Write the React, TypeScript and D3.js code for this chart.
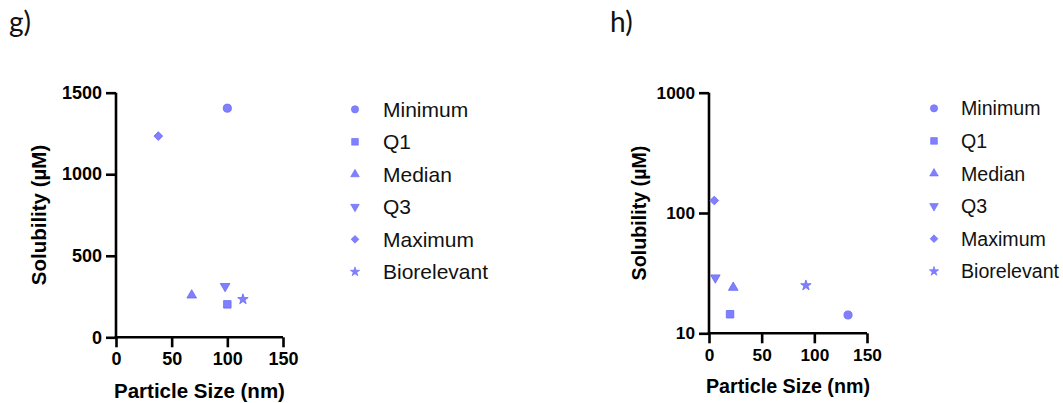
import React, { useEffect, useRef } from "react";
import * as d3 from "d3";

// Series shared by both panels
const seriesNames = ["Minimum", "Q1", "Median", "Q3", "Maximum", "Biorelevant"];

// Panel g: particle size (nm) vs solubility (µM), linear scale
const gSize = [100, 100, 68, 98, 38, 114];
const gSolubility = [1405, 202, 258, 313, 1234, 233];
const gYTicks = [0, 500, 1000, 1500];

// Panel h: particle size (nm) vs solubility (µM), log scale
const hSize = [132, 20, 23, 6, 5, 92];
const hSolubility = [14.2, 14.4, 24, 29, 127, 25];
const hYTicks = [10, 100, 1000];

const xTicks = [0, 50, 100, 150];

const FILL = "#8080ff";
const STROKE = "#6868f8";
const SANS = "Arial, 'Liberation Sans', sans-serif";

type Marker = { type: d3.SymbolType; size: number; rotate: number };

function marker(i: number, scale: number): Marker {
  const list: Marker[] = [
    { type: d3.symbolCircle, size: 52, rotate: 0 },
    { type: d3.symbolSquare, size: 56, rotate: 0 },
    { type: d3.symbolTriangle, size: 40, rotate: 0 },
    { type: d3.symbolTriangle, size: 40, rotate: 180 },
    { type: d3.symbolSquare, size: 38, rotate: 45 },
    { type: d3.symbolStar, size: 34, rotate: 0 },
  ];
  const m = list[i];
  return { ...m, size: m.size * scale };
}

type PanelSpec = {
  label: string;
  labelX: number;
  left: number;
  right: number;
  top: number;
  bottom: number;
  log: boolean;
  yDomain: [number, number];
  yTicks: number[];
  sizes: number[];
  values: number[];
  legendX: number;
  legendTextX: number;
  legendY: number;
  legendStep: number;
  titleY: number;
  yTitleX: number;
  fontScale: number;
  legendFont: number;
};

const panels: PanelSpec[] = [
  {
    label: "g)",
    labelX: 9,
    left: 116,
    right: 283,
    top: 92.7,
    bottom: 337.3,
    log: false,
    yDomain: [0, 1500],
    yTicks: gYTicks,
    sizes: gSize,
    values: gSolubility,
    legendX: 355,
    legendTextX: 383,
    legendY: 109.3,
    legendStep: 32.5,
    titleY: 398,
    yTitleX: 46,
    fontScale: 1,
    legendFont: 21,
  },
  {
    label: "h)",
    labelX: 610,
    left: 709,
    right: 867,
    top: 92.7,
    bottom: 333.3,
    log: true,
    yDomain: [10, 1000],
    yTicks: hYTicks,
    sizes: hSize,
    values: hSolubility,
    legendX: 934,
    legendTextX: 961,
    legendY: 108.3,
    legendStep: 32.6,
    titleY: 393,
    yTitleX: 646,
    fontScale: 0.96,
    legendFont: 19.6,
  },
];

export default function App() {
  const ref = useRef<SVGSVGElement | null>(null);

  useEffect(() => {
    const svg = d3.select(ref.current);
    svg.selectAll("*").remove();

    panels.forEach((p) => {
      const g = svg.append("g");

      g.append("text")
        .attr("x", p.labelX)
        .attr("y", 32)
        .attr("font-family", "Lato, 'Open Sans', sans-serif")
        .attr("font-size", 28)
        .attr("fill", "#111")
        .text(p.label);

      const x = d3.scaleLinear().domain([0, 150]).range([p.left, p.right]);
      const y = p.log
        ? d3.scaleLog().domain(p.yDomain).range([p.bottom, p.top])
        : d3.scaleLinear().domain(p.yDomain).range([p.bottom, p.top]);

      // x axis
      const xAxis = d3
        .axisBottom(x)
        .tickValues(xTicks)
        .tickSize(10)
        .tickPadding(5)
        .tickFormat((d) => String(d));
      const xg = g
        .append("g")
        .attr("transform", `translate(0,${p.bottom})`)
        .call(xAxis as any);

      // y axis
      const yAxis = d3
        .axisLeft(y as any)
        .tickValues(p.yTicks)
        .tickSize(10)
        .tickPadding(4)
        .tickFormat((d: any) => String(d));
      const yg = g
        .append("g")
        .attr("transform", `translate(${p.left},0)`)
        .call(yAxis as any);

      [xg, yg].forEach((ax) => {
        ax.attr("font-family", SANS);
        ax.select(".domain").attr("stroke", "#000").attr("stroke-width", 2.6);
        ax.selectAll(".tick line").attr("stroke", "#000").attr("stroke-width", 2.6);
        ax.selectAll(".tick text")
          .attr("fill", "#000")
          .attr("font-family", SANS)
          .attr("font-weight", "bold")
          .attr("font-size", 18 * p.fontScale);
      });
      xg.selectAll(".tick text").attr("dy", "0.71em");
      xg.select(".domain").attr("d", `M${p.left - 1.3},0H${p.right}`);
      yg.select(".domain").attr("d", `M0,${p.top}V${p.bottom + 1.3}`);

      // axis titles
      g.append("text")
        .attr("x", (p.left + p.right) / 2)
        .attr("y", p.titleY)
        .attr("text-anchor", "middle")
        .attr("font-family", SANS)
        .attr("font-weight", "bold")
        .attr("font-size", 20.5 * p.fontScale)
        .attr("fill", "#000")
        .text("Particle Size (nm)");

      g.append("text")
        .attr(
          "transform",
          `translate(${p.yTitleX},${(p.top + p.bottom) / 2}) rotate(-90)`
        )
        .attr("text-anchor", "middle")
        .attr("font-family", SANS)
        .attr("font-weight", "bold")
        .attr("font-size", 20.5 * p.fontScale)
        .attr("fill", "#000")
        .text("Solubility (µM)");

      // points
      seriesNames.forEach((_, i) => {
        const m = marker(i, 1);
        g.append("path")
          .attr("d", d3.symbol().type(m.type).size(m.size)() as string)
          .attr(
            "transform",
            `translate(${x(p.sizes[i])},${y(p.values[i] as any)}) rotate(${m.rotate})`
          )
          .attr("fill", FILL)
          .attr("stroke", STROKE)
          .attr("stroke-width", 0.8);
      });

      // legend
      seriesNames.forEach((name, i) => {
        const cy = p.legendY + i * p.legendStep;
        const m = marker(i, 0.8);
        g.append("path")
          .attr("d", d3.symbol().type(m.type).size(m.size)() as string)
          .attr("transform", `translate(${p.legendX},${cy}) rotate(${m.rotate})`)
          .attr("fill", FILL)
          .attr("stroke", STROKE)
          .attr("stroke-width", 0.6);
        g.append("text")
          .attr("x", p.legendTextX)
          .attr("y", cy)
          .attr("dy", "0.36em")
          .attr("font-family", SANS)
          .attr("font-size", p.legendFont)
          .attr("fill", "#111")
          .text(name);
      });
    });
  }, []);

  return (
    <svg
      ref={ref}
      width={1063}
      height={403}
      style={{ position: "absolute", left: 0, top: 0, background: "#fff" }}
    />
  );
}
